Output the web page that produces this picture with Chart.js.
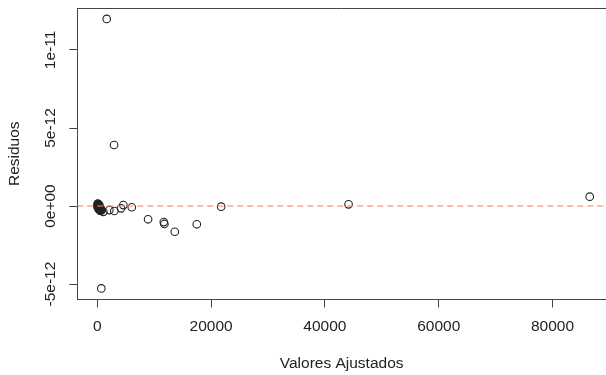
<!DOCTYPE html>
<html>
<head>
<meta charset="utf-8">
<script src="https://cdn.jsdelivr.net/npm/chart.js@4.4.1/dist/chart.umd.min.js"></script>
<style>
  html, body { margin: 0; padding: 0; background: #fff; }
</style>
</head>
<body>
<canvas id="chart" width="606" height="375"></canvas>
<script>
// valores ajustados (fitted) and residuos
const fittedValues = [
  1650, 2940, 700, 8920, 11680, 11790, 13610, 17480, 21760, 6050,
  4570, 4170, 2990, 2110, 1060, 44150, 86540,
  40, 90, 120, 150, 180, 210, 260, 300, 340, 380, 420, 470, 520, 560,
  610, 650, 700, 55, 75, 130, 200, 240, 290, 330, 390, 450, 500, 580
];
const residuals = [
  11.99e-12, 3.91e-12, -5.28e-12, -0.85e-12, -1.03e-12, -1.15e-12, -1.65e-12, -1.17e-12, -0.04e-12, -0.08e-12,
  0.06e-12, -0.15e-12, -0.32e-12, -0.26e-12, -0.37e-12, 0.11e-12, 0.60e-12,
  0.05e-12, 0.12e-12, -0.02e-12, 0.10e-12, -0.08e-12, 0.02e-12, -0.15e-12, -0.05e-12, 0.08e-12, -0.20e-12, -0.10e-12, -0.25e-12, -0.12e-12, -0.30e-12,
  -0.18e-12, -0.22e-12, -0.28e-12, -0.06e-12, 0.15e-12, -0.12e-12, 0.06e-12, -0.18e-12, 0.00e-12, -0.24e-12, -0.08e-12, -0.15e-12, -0.30e-12, -0.20e-12
];
const xTicks = [0, 20000, 40000, 60000, 80000];
const yTicks = [-5e-12, 0, 5e-12, 1e-11];
const yTickLabels = ['-5e-12', '0e+00', '5e-12', '1e-11'];
const xLimits = [-3520, 89400];
const yLimits = [-5.99e-12, 12.69e-12];

const font = { family: '"Liberation Sans", Arial, sans-serif', size: 15.5 };
const ink = '#222';
const axisInk = '#444';

// R draws a box round the plot; the axes give left and bottom, add the top
const topLine = {
  id: 'topLine',
  afterDraw(chart) {
    const { ctx, chartArea } = chart;
    ctx.save();
    ctx.strokeStyle = axisInk;
    ctx.lineWidth = 1;
    ctx.beginPath();
    ctx.moveTo(chartArea.left, Math.round(chartArea.top) + 0.5);
    ctx.lineTo(chartArea.right, Math.round(chartArea.top) + 0.5);
    ctx.stroke();
    ctx.restore();
  }
};

new Chart(document.getElementById('chart'), {
  data: {
    datasets: [
      {
        type: 'scatter',
        data: fittedValues.map((x, i) => ({ x: x, y: residuals[i] })),
        pointStyle: 'circle',
        pointRadius: 3.8,
        pointBorderWidth: 1.1,
        borderColor: ink,
        backgroundColor: 'rgba(0,0,0,0)',
        order: 2
      },
      {
        type: 'line',
        data: [{ x: xLimits[0], y: 0 }, { x: xLimits[1], y: 0 }],
        borderColor: 'rgba(250,128,114,0.72)',
        borderWidth: 1.4,
        borderDash: [6, 4],
        pointRadius: 0,
        order: 1
      }
    ]
  },
  options: {
    responsive: false,
    animation: false,
    devicePixelRatio: 1,
    layout: { autoPadding: false, padding: { top: 8, left: 0, right: 0, bottom: 0 } },
    plugins: { legend: { display: false }, tooltip: { enabled: false } },
    scales: {
      x: {
        type: 'linear',
        min: xLimits[0],
        max: xLimits[1],
        afterBuildTicks: s => { s.ticks = xTicks.map(v => ({ value: v })); },
        afterFit: s => { s.height = 75.5; },
        ticks: {
          font: font, color: ink, padding: 10, maxRotation: 0, autoSkip: false,
          callback: v => String(v)
        },
        grid: { drawOnChartArea: false, drawTicks: true, tickLength: 8, color: axisInk },
        border: { color: axisInk },
        title: {
          display: true, text: 'Valores Ajustados', font: font, color: ink,
          padding: { top: 0, bottom: 1.5 }
        }
      },
      y: {
        type: 'linear',
        min: yLimits[0],
        max: yLimits[1],
        afterBuildTicks: s => { s.ticks = yTicks.map(v => ({ value: v })); },
        afterFit: s => { s.width = 77.3; },
        ticks: {
          font: font, color: ink, padding: -4, minRotation: 90, maxRotation: 90,
          crossAlign: 'center', autoSkip: false,
          callback: (v, i) => yTickLabels[i]
        },
        grid: { drawOnChartArea: false, drawTicks: true, tickLength: 8, color: axisInk },
        border: { color: axisInk },
        title: {
          display: true, text: 'Residuos', font: font, color: ink,
          padding: { top: 5, bottom: 0 }
        }
      }
    }
  },
  plugins: [topLine]
});
</script>
</body>
</html>
